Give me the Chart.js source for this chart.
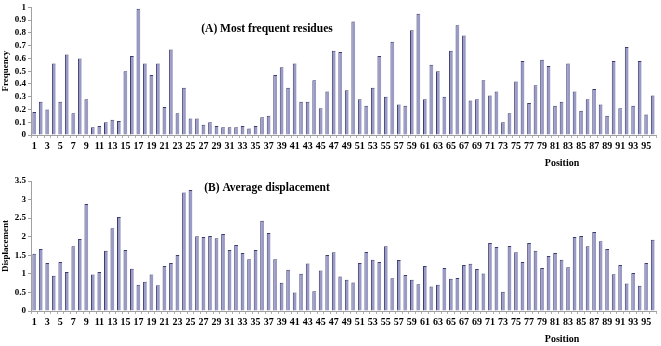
<!DOCTYPE html>
<html>
<head>
<meta charset="utf-8">
<script src="https://cdn.jsdelivr.net/npm/chart.js@4/dist/chart.umd.min.js"></script>
<style>
  html, body { margin: 0; padding: 0; background: #fff; }
  .panel { position: absolute; left: 0; width: 661px; }
  #boxA { top: 0; height: 170px; }
  #boxB { top: 170px; height: 176px; }
</style>
</head>
<body>
<div class="panel" id="boxA"><canvas id="chartA"></canvas></div>
<div class="panel" id="boxB"><canvas id="chartB"></canvas></div>
<script>
// positions 1..96
const positions = Array.from({ length: 96 }, (_, i) => String(i + 1));

// (A) frequency of most frequent residue per position
const frequency = [
  0.18, 0.26, 0.20, 0.56, 0.26, 0.63, 0.17, 0.60, 0.28, 0.06,
  0.07, 0.10, 0.12, 0.11, 0.50, 0.62, 0.99, 0.56, 0.47, 0.56,
  0.22, 0.67, 0.17, 0.37, 0.13, 0.13, 0.08, 0.10, 0.07, 0.06,
  0.06, 0.06, 0.07, 0.05, 0.07, 0.14, 0.15, 0.47, 0.53, 0.37,
  0.56, 0.26, 0.26, 0.43, 0.21, 0.34, 0.66, 0.65, 0.35, 0.89,
  0.28, 0.23, 0.37, 0.62, 0.30, 0.73, 0.24, 0.23, 0.82, 0.95,
  0.28, 0.55, 0.50, 0.30, 0.66, 0.86, 0.78, 0.27, 0.28, 0.43,
  0.31, 0.34, 0.10, 0.17, 0.42, 0.58, 0.25, 0.39, 0.59, 0.54,
  0.23, 0.26, 0.56, 0.34, 0.19, 0.28, 0.36, 0.24, 0.15, 0.58,
  0.21, 0.69, 0.23, 0.58, 0.16, 0.31
];

// (B) average displacement per position
const displacement = [
  1.54, 1.67, 1.29, 0.95, 1.32, 1.05, 1.74, 1.94, 2.88, 0.98,
  1.05, 1.62, 2.23, 2.53, 1.64, 1.14, 0.71, 0.79, 0.98, 0.69,
  1.21, 1.29, 1.51, 3.19, 3.26, 2.01, 1.99, 2.02, 1.96, 2.07,
  1.64, 1.78, 1.56, 1.39, 1.64, 2.43, 2.10, 1.39, 0.76, 1.11,
  0.50, 1.00, 1.28, 0.53, 1.09, 1.51, 1.58, 0.93, 0.84, 0.77,
  1.29, 1.59, 1.38, 1.32, 1.74, 0.88, 1.37, 0.97, 0.84, 0.72,
  1.21, 0.66, 0.71, 1.16, 0.87, 0.89, 1.24, 1.27, 1.13, 1.01,
  1.83, 1.72, 0.52, 1.75, 1.58, 1.32, 1.83, 1.62, 1.16, 1.48,
  1.56, 1.38, 1.18, 1.99, 2.02, 1.74, 2.13, 1.88, 1.67, 0.99,
  1.24, 0.74, 1.02, 0.68, 1.29, 1.92
];

const SERIF = "'Liberation Serif', 'Times New Roman', serif";

// draws the in-plot panel title and the "Position" caption
const captionPlugin = {
  id: 'captions',
  afterDraw(chart, args, opts) {
    const c = chart.ctx;
    const area = chart.chartArea;
    c.save();
    c.fillStyle = '#000';
    c.font = 'bold 11.5px ' + SERIF;
    c.textAlign = 'center';
    c.textBaseline = 'middle';
    c.fillText(opts.title, opts.titleX, opts.titleY);
    c.font = 'bold 10px ' + SERIF;
    c.fillText('Position', 562, area.bottom + 28);
    c.restore();
  }
};

function makeChart(id, values, yTitle, yMax, yStep, padTop, xHeight, title, titleY) {
  return new Chart(document.getElementById(id), {
    type: 'bar',
    data: {
      labels: positions,
      datasets: [{
        data: values,
        backgroundColor: '#9a9ac6',
        borderColor: '#3c3c6e',
        borderWidth: { left: 1, top: 1, right: 0, bottom: 0 },
        barPercentage: 0.58,
        categoryPercentage: 1.0
      }]
    },
    options: {
      responsive: true,
      maintainAspectRatio: false,
      animation: false,
      layout: { padding: { top: padTop, right: 5, left: 0, bottom: 0 } },
      plugins: {
        legend: { display: false },
        tooltip: { enabled: false },
        captions: { title: title, titleX: 267, titleY: titleY }
      },
      scales: {
        x: {
          offset: true,
          grid: { display: true, drawOnChartArea: false, offset: true, tickLength: 3, color: '#b0b0b0' },
          border: { color: '#a0a0a0' },
          ticks: {
            autoSkip: false,
            maxRotation: 0,
            padding: 2,
            color: '#000',
            font: { family: SERIF, size: 10, weight: 'bold' },
            callback: (v, i) => (i % 2 === 0 ? positions[i] : '')
          },
          afterFit: (s) => { s.height = xHeight; }
        },
        y: {
          min: 0,
          max: yMax,
          grid: { display: true, drawOnChartArea: false, tickLength: 3, color: '#a0a0a0' },
          border: { color: '#a0a0a0' },
          ticks: {
            stepSize: yStep,
            autoSkip: false,
            padding: 2,
            color: '#000',
            font: { family: SERIF, size: 9, weight: 'bold' },
            callback: (v) => String(Number(v.toFixed(1)))
          },
          title: {
            display: true,
            text: yTitle,
            color: '#000',
            padding: 0,
            font: { family: SERIF, size: 9, weight: 'bold' }
          },
          afterFit: (s) => { s.width = 31; }
        }
      }
    },
    plugins: [captionPlugin]
  });
}

makeChart('chartA', frequency, 'Frequency', 1, 0.1, 6, 35, '(A) Most frequent residues', 29);
makeChart('chartB', displacement, 'Displacement', 3.5, 0.5, 11, 35, '(B) Average displacement', 18);
</script>
</body>
</html>
